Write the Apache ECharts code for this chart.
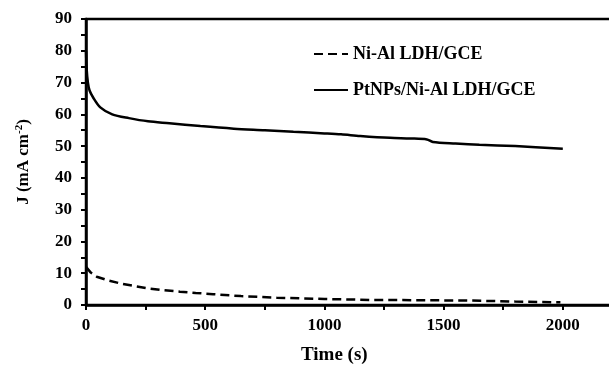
<!DOCTYPE html>
<html>
<head>
<meta charset="utf-8">
<script src="https://cdn.jsdelivr.net/npm/echarts@6/dist/echarts.min.js"></script>
<style>
  html, body { margin: 0; padding: 0; background: #fff; }
  #chart { width: 609px; height: 372px; }
</style>
</head>
<body>
<div id="chart"></div>
<script>
// PtNPs/Ni-Al LDH/GCE (solid)
var solidTime = [0, 3, 8, 15, 30, 60, 110, 180, 260, 350, 480, 620, 750, 870, 1000, 1070, 1150, 1275, 1360, 1430, 1455, 1550, 1650, 1800, 2000];
var solidJ = [80, 74, 70, 67.5, 65.3, 62.2, 60, 58.8, 57.8, 57.2, 56.3, 55.5, 55.0, 54.5, 54.0, 53.7, 53.2, 52.6, 52.4, 52.1, 51.3, 50.8, 50.4, 50.0, 49.2];
// Ni-Al LDH/GCE (dashed)
var dashTime = [0, 5, 20, 45, 90, 143, 200, 254, 320, 394, 460, 533, 650, 800, 1000, 1191, 1400, 1610, 1800, 1990];
var dashJ = [12, 11.5, 10.2, 8.9, 7.8, 6.8, 6.0, 5.3, 4.7, 4.2, 3.8, 3.4, 2.8, 2.3, 1.9, 1.6, 1.5, 1.4, 1.1, 0.85];
var seriesNames = ["Ni-Al LDH/GCE", "PtNPs/Ni-Al LDH/GCE"];
var xTicks = [0, 500, 1000, 1500, 2000];

var font = "Liberation Serif";
var chart = echarts.init(document.getElementById("chart"));

function pairs(xs, ys) {
  var out = [];
  for (var i = 0; i < xs.length; i++) out.push([xs[i], ys[i]]);
  return out;
}

var option = {
  animation: false,
  grid: {
    left: 86,
    top: 19,
    width: 596, // 0..2500 range, right part is cut off by the canvas
    height: 286,
    outerBoundsMode: "none",
    show: true,
    borderColor: "#000",
    borderWidth: 2.5
  },
  legend: {
    orient: "vertical",
    left: 308,
    top: 40,
    itemGap: 18,
    itemWidth: 34,
    itemHeight: 14,
    itemStyle: { opacity: 0 },
    data: seriesNames,
    textStyle: { fontFamily: font, fontWeight: "bold", fontSize: 18, color: "#000" }
  },
  xAxis: {
    type: "value",
    min: 0,
    max: 2500,
    interval: 500,
    axisLine: { lineStyle: { color: "#000", width: 2.5 } },
    axisTick: { length: 5, lineStyle: { width: 2 } },
    minorTick: { show: true, splitNumber: 2, length: 5, lineStyle: { color: "#000", width: 2 } },
    splitLine: { show: false },
    axisLabel: {
      margin: 12,
      fontFamily: font,
      fontWeight: "bold",
      fontSize: 17,
      color: "#000",
      formatter: function (v) { return xTicks.indexOf(v) >= 0 ? String(v) : ""; }
    }
  },
  yAxis: {
    type: "value",
    min: 0,
    max: 90,
    interval: 10,
    name: "{a|J (mA cm}{s|-2}{a|)}",
    nameLocation: "middle",
    nameGap: 52,
    nameRotate: 90,
    nameTextStyle: {
      rich: {
        a: { fontFamily: font, fontWeight: "bold", fontSize: 17, color: "#000", lineHeight: 20 },
        s: { fontFamily: font, fontWeight: "bold", fontSize: 11, color: "#000", lineHeight: 11, verticalAlign: "top" }
      }
    },
    axisLine: { lineStyle: { color: "#000", width: 2.5 } },
    axisTick: { length: 5, lineStyle: { width: 2 } },
    minorTick: { show: true, splitNumber: 2, length: 5, lineStyle: { color: "#000", width: 2 } },
    splitLine: { show: false },
    axisLabel: { margin: 14, fontFamily: font, fontWeight: "bold", fontSize: 17, color: "#000" }
  },
  graphic: [{
    type: "text",
    left: 301,
    top: 346,
    style: { text: "Time (s)", font: "bold 19px 'Liberation Serif'", fill: "#000" }
  }],
  series: [
    {
      name: seriesNames[0],
      type: "line",
      showSymbol: false,
      symbol: "none",
      data: pairs(dashTime, dashJ),
      lineStyle: { color: "#000", width: 2.5, type: [9, 5] },
      itemStyle: { color: "#000" }
    },
    {
      name: seriesNames[1],
      type: "line",
      showSymbol: false,
      symbol: "none",
      smooth: 0.3,
      data: pairs(solidTime, solidJ),
      lineStyle: { color: "#000", width: 2.5 },
      itemStyle: { color: "#000" }
    }
  ]
};

chart.setOption(option);
</script>
</body>
</html>
